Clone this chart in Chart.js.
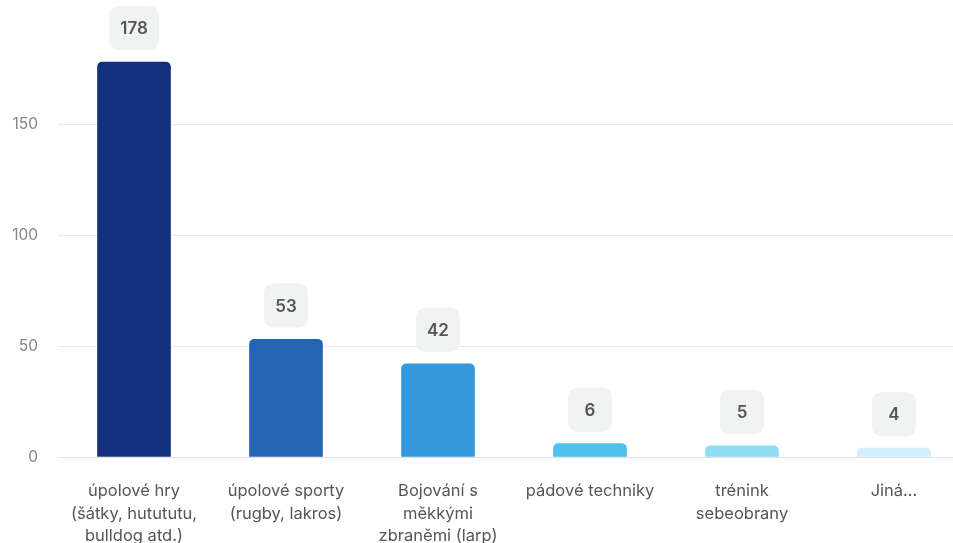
<!DOCTYPE html>
<html>
<head>
<meta charset="utf-8">
<script src="https://cdn.jsdelivr.net/npm/chart.js@4"></script>
<style>
  html, body { margin: 0; padding: 0; background: #fff; overflow: hidden; }
  #wrap { position: relative; width: 970px; height: 566px; margin-top: -16px; }
</style>
</head>
<body>
<div id="wrap"><canvas id="chart"></canvas></div>
<script>
const categories = [
  ["úpolové hry", "(šátky, hutututu,", "bulldog atd.)"],
  ["úpolové sporty", "(rugby, lakros)"],
  ["Bojování s", "měkkými", "zbraněmi (larp)"],
  ["pádové techniky"],
  ["trénink", "sebeobrany"],
  ["Jiná..."]
];
const responses = [178, 53, 42, 6, 5, 4];
const yTicks = [0, 50, 100, 150];
const barColors = ["#13307f", "#2464b4", "#3598dc", "#4fc1ec", "#8fdcf4", "#d0f1fb"];

// grey rounded badge with the count above every bar
const valueBadges = {
  id: "valueBadges",
  afterDatasetsDraw(chart) {
    const ctx = chart.ctx;
    const meta = chart.getDatasetMeta(0);
    ctx.save();
    ctx.font = "600 17px Inter, sans-serif";
    ctx.textAlign = "center";
    ctx.textBaseline = "middle";
    meta.data.forEach((bar, i) => {
      const text = String(responses[i]);
      const w = Math.max(44, ctx.measureText(text).width + 22);
      const h = 44;
      const bottom = bar.y - 12;
      ctx.fillStyle = "#f1f2f2";
      ctx.beginPath();
      ctx.roundRect(bar.x - w / 2, bottom - h, w, h, 9);
      ctx.fill();
      ctx.fillStyle = "#555555";
      ctx.fillText(text, bar.x, bottom - h / 2 + 1);
    });
    ctx.restore();
  }
};

new Chart(document.getElementById("chart"), {
  type: "bar",
  data: {
    labels: categories,
    datasets: [{
      data: responses,
      backgroundColor: barColors,
      borderRadius: { topLeft: 5, topRight: 5 },
      borderSkipped: "bottom",
      barThickness: 73
    }]
  },
  options: {
    responsive: true,
    maintainAspectRatio: false,
    animation: false,
    layout: { padding: { top: 0, right: 0, left: 0, bottom: 0 } },
    plugins: { legend: { display: false }, tooltip: { enabled: false } },
    scales: {
      x: {
        grid: { display: false },
        border: { display: false },
        ticks: {
          color: "#555555",
          font: { family: "Inter, sans-serif", size: 16.5, lineHeight: 1.37 },
          padding: 15,
          maxRotation: 0,
          autoSkip: false
        },
        afterFit(scale) { scale.height = 93; }
      },
      y: {
        min: 0,
        max: 200,
        afterBuildTicks(scale) {
          scale.ticks = yTicks.map(v => ({ value: v }));
        },
        grid: {
          drawTicks: false,
          color: ctx => ctx.tick && ctx.tick.value === 0 ? "#dde0f2" : "#e9e9e9",
          lineWidth: 1
        },
        border: { display: false },
        ticks: {
          color: "#858585",
          font: { family: "Inter, sans-serif", size: 15.5 },
          padding: 20
        },
        afterFit(scale) { scale.width = 58; }
      }
    }
  },
  plugins: [valueBadges]
});
</script>
</body>
</html>
